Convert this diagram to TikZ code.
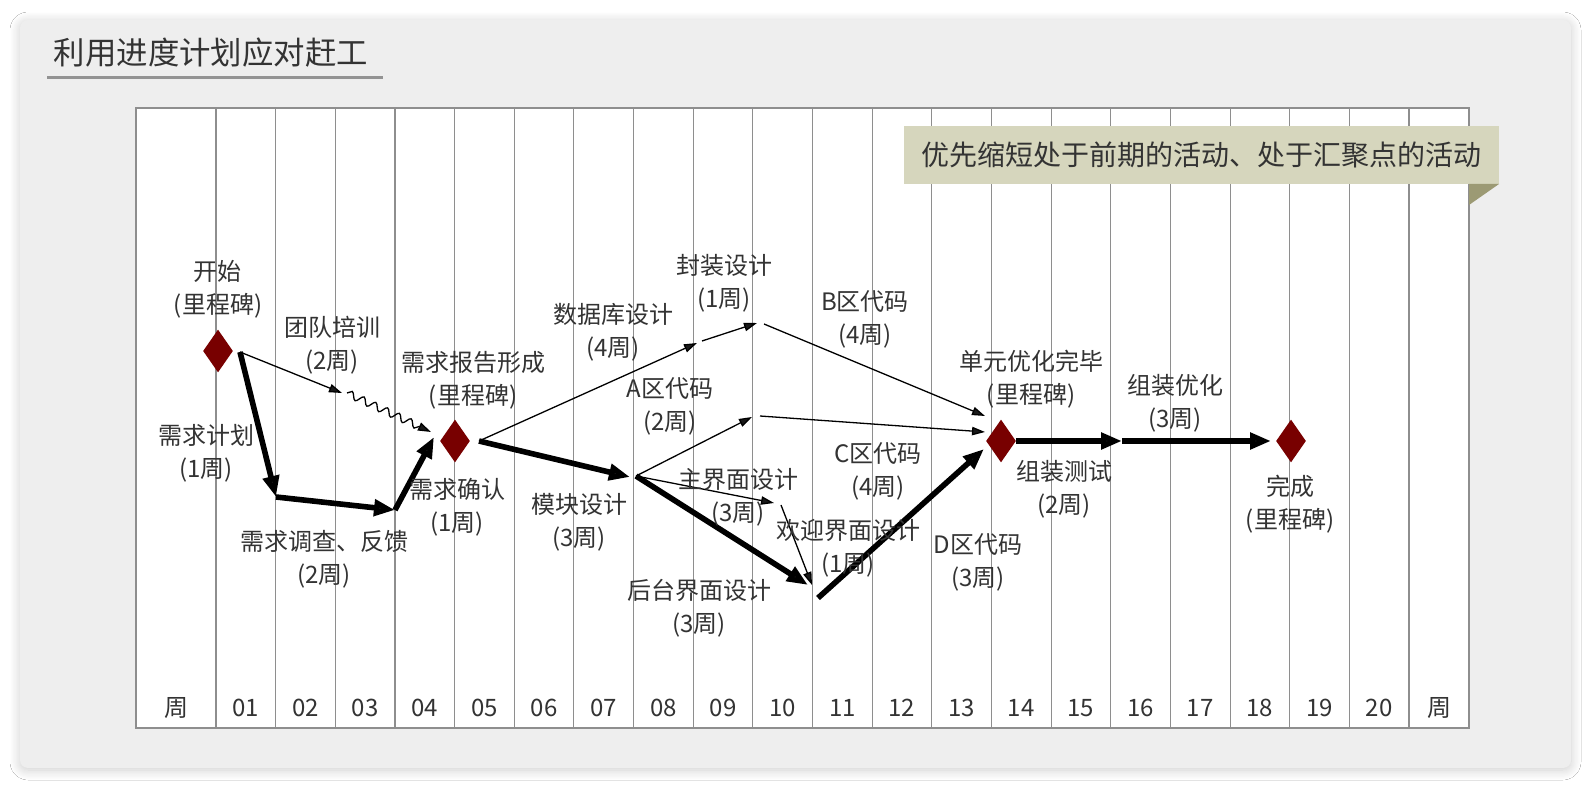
\documentclass[tikz,border=0pt]{standalone}
\usepackage{fontspec}
\setmainfont{Noto Sans CJK SC}
\usepackage{xcolor}
\usetikzlibrary{arrows.meta,shapes.geometric,decorations.pathmorphing,shadows.blur}
\definecolor{panelgray}{HTML}{EEEEEE}
\definecolor{gridgray}{HTML}{8E8E8E}
\definecolor{milered}{HTML}{780000}
\definecolor{notefill}{HTML}{D6D6BD}
\definecolor{notefold}{HTML}{9C9A74}
\definecolor{inkgray}{HTML}{333333}

\tikzset{
  milestone/.style={diamond,fill=milered,minimum width=15pt,minimum height=21.5pt,inner sep=0pt},
  task/.style={font=\fontsize{12}{16.5}\selectfont,text=inkgray,align=center,inner sep=0pt},
  axislabel/.style={font=\fontsize{12}{14}\selectfont,text=inkgray,inner sep=0pt},
  critpath/.style={line width=2.8pt,-{Triangle[length=10.5pt,width=8pt]}},
  slackpath/.style={line width=0.65pt,-{Triangle[length=6.5pt,width=4.2pt]}},
  gridline/.style={gridgray,line width=0.55pt}
}

\begin{document}
\begin{tikzpicture}[x=0.5pt,y=-0.5pt]
  \useasboundingbox (0,0) rectangle (1592,790);
  \fill[white] (0,0) rectangle (1592,790);
  % Panel with soft shadow
  \fill[panelgray,rounded corners=4pt,blur shadow={shadow blur steps=10,shadow xshift=0pt,shadow yshift=-1pt,shadow blur radius=5pt,shadow opacity=20}] (20,20) rectangle (1571,768);
  % Title
  \node[font=\fontsize{15.7}{18}\selectfont,text=inkgray,inner sep=0pt] (title) at (211,53) {利用进度计划应对赶工};
  \draw[line width=1.5pt,color=gray!85] (47,78) -- (383,78);
  % Week table
  \filldraw[fill=white,draw=gridgray,line width=0.55pt] (136,108) rectangle (1469,728);
  \foreach \k in {0,...,20}
    \draw[gridline] ({216+59.65*\k},108) -- ({216+59.65*\k},728);
  \node[axislabel] (wk0) at (176,708) {周};
  \foreach \lab [count=\k] in {01,02,03,04,05,06,07,08,09,10,11,12,13,14,15,16,17,18,19,20}
    \node[axislabel] (wk\k) at ({216+59.65*(\k-0.5)},708) {\lab};
  \node[axislabel] (wk21) at (1439,708) {周};
  % Note banner
  \fill[notefill] (904,126) rectangle (1499,184);
  \fill[notefold] (1469,184) -- (1499,184) -- (1469,205) -- cycle;
  \node[font=\fontsize{14}{16}\selectfont,text=inkgray,inner sep=0pt] (note) at (1201,155) {优先缩短处于前期的活动、处于汇聚点的活动};
  % Milestones
  \node[milestone] (ms0) at (218,351) {};
  \node[milestone] (ms1) at (455,441) {};
  \node[milestone] (ms2) at (1001,441) {};
  \node[milestone] (ms3) at (1291,441) {};
  % Event points
  \coordinate (s0) at (240,352);
  \coordinate (r1) at (276,497);
  \coordinate (r2) at (395,510);
  \coordinate (t1) at (342,393);
  \coordinate (t2) at (347,393);
  \coordinate (ms1wave) at (431,432);
  \coordinate (ms1crit) at (434,437);
  \coordinate (ms1out) at (479,441);
  \coordinate (db1) at (697,343);
  \coordinate (fz0) at (702,341);
  \coordinate (fz1) at (757,323);
  \coordinate (bq0) at (764,324);
  \coordinate (mk1) at (630,477);
  \coordinate (mk0) at (636,476);
  \coordinate (aq1) at (752,417);
  \coordinate (cq0) at (760,416);
  \coordinate (zj1) at (774,503);
  \coordinate (hy0) at (781,505);
  \coordinate (hy1) at (812,585);
  \coordinate (ht1) at (808,585);
  \coordinate (dq0) at (818,598);
  \coordinate (ms2b) at (985,416);
  \coordinate (ms2c) at (985,432);
  \coordinate (ms2d) at (984,449);
  \coordinate (zc1) at (1122,441);
  \coordinate (ms3in) at (1271,441);
  % Activities
  \draw[critpath] (s0) -- (r1);
  \draw[critpath] (r1) -- (r2);
  \draw[critpath] (r2) -- (ms1crit);
  \draw[slackpath] (s0) -- (t1);
  \draw[line width=0.65pt,-{Triangle[length=6.5pt,width=4.2pt]},decorate,
        decoration={snake,amplitude=1.8pt,segment length=6.5pt,post length=4pt}] (t2) -- (ms1wave);
  \draw[slackpath] (ms1out) -- (db1);
  \draw[slackpath] (fz0) -- (fz1);
  \draw[slackpath] (bq0) -- (ms2b);
  \draw[critpath] (ms1out) -- (mk1);
  \draw[slackpath] (mk0) -- (aq1);
  \draw[slackpath] (cq0) -- (ms2c);
  \draw[slackpath] (mk0) -- (zj1);
  \draw[slackpath] (hy0) -- (hy1);
  \draw[critpath] (mk0) -- (ht1);
  \draw[critpath] (dq0) -- (ms2d);
  \draw[critpath] (ms2.east) -- (zc1);
  \draw[critpath] (zc1) -- (ms3in);
  % Activity labels
  \node[task] (lStart) at (218,289.5) {开始\\(里程碑)};
  \node[task] (lTeam) at (332,345.5) {团队培训\\(2周)};
  \node[task] (lPlan) at (206,453) {需求计划\\(1周)};
  \node[task] (lSurvey) at (324,559.5) {需求调查、反馈\\(2周)};
  \node[task] (lReport) at (473,380) {需求报告形成\\(里程碑)};
  \node[task] (lConfirm) at (457,507) {需求确认\\(1周)};
  \node[task] (lDb) at (613,332.5) {数据库设计\\(4周)};
  \node[task] (lPack) at (724,283) {封装设计\\(1周)};
  \node[task] (lCodeB) at (865,319.5) {B区代码\\(4周)};
  \node[task] (lCodeA) at (670,406) {A区代码\\(2周)};
  \node[task] (lModule) at (579,522) {模块设计\\(3周)};
  \node[task] (lMainUI) at (738,497.5) {主界面设计\\(3周)};
  \node[task] (lWelcome) at (848,548.5) {欢迎界面设计\\(1周)};
  \node[task] (lAdmin) at (699,608.5) {后台界面设计\\(3周)};
  \node[task] (lCodeC) at (878,471.5) {C区代码\\(4周)};
  \node[task] (lCodeD) at (978,562) {D区代码\\(3周)};
  \node[task] (lUnit) at (1031,379) {单元优化完毕\\(里程碑)};
  \node[task] (lTest) at (1064,489) {组装测试\\(2周)};
  \node[task] (lTune) at (1175,403.5) {组装优化\\(3周)};
  \node[task] (lDone) at (1290,504.5) {完成\\(里程碑)};
\end{tikzpicture}
\end{document}
